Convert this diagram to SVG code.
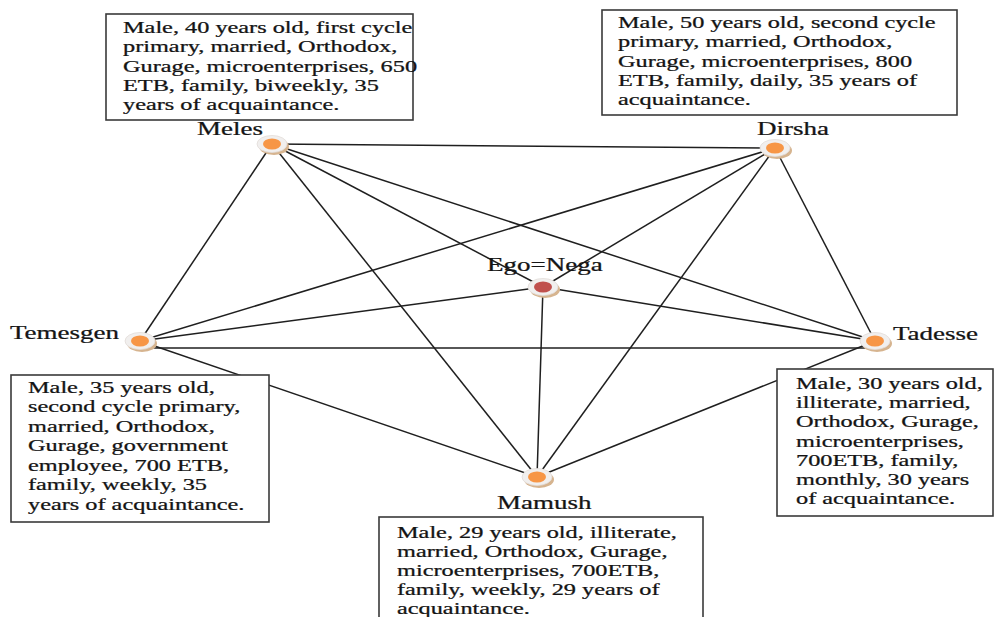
<svg xmlns="http://www.w3.org/2000/svg" width="994" height="617" viewBox="0 0 994 617">
  <defs>
    <style>
      .bg { fill: #ffffff; }
      .edge { stroke: #1f1f1f; stroke-width: 1.5; fill: none; }
      .box { fill: #ffffff; stroke: #3a3a3a; stroke-width: 1.6; }
      .info { font-family: "Liberation Serif", "Times New Roman", serif; font-size: 16.2px; fill: #141414; stroke: #141414; stroke-width: 0.25; }
      .name { font-family: "Liberation Serif", "Times New Roman", serif; font-size: 18px; fill: #141414; stroke: #141414; stroke-width: 0.25; }
      .shadow { fill: #d6b48f; }
      .ring { fill: #f1efee; stroke: #e2dcd8; stroke-width: 0.8; }
      .alter { fill: #f79646; }
      .ego { fill: #c0504d; }
    </style>
    <g id="dot">
      <ellipse class="shadow" cx="2" cy="2.5" rx="15" ry="8.5"/>
      <ellipse class="ring" cx="0" cy="0" rx="15" ry="8.5"/>
    </g>
  </defs>

  <rect class="bg" x="0" y="0" width="994" height="617"/>

  <!-- ties between all six members -->
  <g id="connectors">
    <line class="edge" x1="272" y1="144" x2="775" y2="148"/>
    <line class="edge" x1="272" y1="144" x2="140" y2="341"/>
    <line class="edge" x1="272" y1="144" x2="537" y2="477"/>
    <line class="edge" x1="272" y1="144" x2="543" y2="287"/>
    <line class="edge" x1="272" y1="144" x2="875" y2="341"/>
    <line class="edge" x1="775" y1="148" x2="140" y2="341"/>
    <line class="edge" x1="775" y1="148" x2="543" y2="287"/>
    <line class="edge" x1="775" y1="148" x2="537" y2="477"/>
    <line class="edge" x1="775" y1="148" x2="875" y2="341"/>
    <line class="edge" x1="140" y1="341" x2="543" y2="287"/>
    <line class="edge" x1="150" y1="348" x2="866" y2="348"/>
    <line class="edge" x1="140" y1="341" x2="537" y2="477"/>
    <line class="edge" x1="543" y1="287" x2="875" y2="341"/>
    <line class="edge" x1="543" y1="287" x2="537" y2="477"/>
    <line class="edge" x1="537" y1="477" x2="875" y2="341"/>
  </g>

  <!-- Meles -->
  <g id="meles">
    <rect class="box" x="106" y="14" width="307" height="106"/>
    <g class="info" transform="translate(123,0) scale(1.5,1)">
      <text x="0" y="33">Male, 40 years old, first cycle</text>
      <text x="0" y="52.5">primary, married, Orthodox,</text>
      <text x="0" y="72">Gurage, microenterprises, 650</text>
      <text x="0" y="91">ETB, family, biweekly, 35</text>
      <text x="0" y="110">years of acquaintance.</text>
    </g>
    <text class="name" transform="translate(197,135) scale(1.5,1)">Meles</text>
    <use href="#dot" x="272" y="144"/>
    <ellipse class="alter" cx="272" cy="144" rx="9" ry="5.5"/>
  </g>

  <!-- Dirsha -->
  <g id="dirsha">
    <rect class="box" x="602" y="10" width="355" height="105"/>
    <g class="info" transform="translate(618,0) scale(1.5,1)">
      <text x="0" y="28">Male, 50 years old, second cycle</text>
      <text x="0" y="47.5">primary, married, Orthodox,</text>
      <text x="0" y="67">Gurage, microenterprises, 800</text>
      <text x="0" y="86">ETB, family, daily, 35 years of</text>
      <text x="0" y="105">acquaintance.</text>
    </g>
    <text class="name" transform="translate(757,135) scale(1.5,1)">Dirsha</text>
    <use href="#dot" x="775" y="148"/>
    <ellipse class="alter" cx="775" cy="148" rx="9" ry="5.5"/>
  </g>

  <!-- Ego -->
  <g id="ego-nega">
    <text class="name" transform="translate(487,271) scale(1.5,1)">Ego=Nega</text>
    <use href="#dot" x="543" y="287"/>
    <ellipse class="ego" cx="543" cy="287" rx="9" ry="5.5"/>
  </g>

  <!-- Temesgen -->
  <g id="temesgen">
    <rect class="box" x="11" y="375" width="258" height="147"/>
    <g class="info" transform="translate(28,0) scale(1.5,1)">
      <text x="0" y="393">Male, 35 years old,</text>
      <text x="0" y="412.5">second cycle primary,</text>
      <text x="0" y="432">married, Orthodox,</text>
      <text x="0" y="451.5">Gurage, government</text>
      <text x="0" y="471">employee, 700 ETB,</text>
      <text x="0" y="490.5">family, weekly, 35</text>
      <text x="0" y="510">years of acquaintance.</text>
    </g>
    <text class="name" transform="translate(10,339) scale(1.5,1)">Temesgen</text>
    <use href="#dot" x="140" y="341"/>
    <ellipse class="alter" cx="140" cy="341" rx="9" ry="5.5"/>
  </g>

  <!-- Tadesse -->
  <g id="tadesse">
    <rect class="box" x="777" y="369" width="216" height="147"/>
    <g class="info" transform="translate(796,0) scale(1.5,1)">
      <text x="0" y="389">Male, 30 years old,</text>
      <text x="0" y="408">illiterate, married,</text>
      <text x="0" y="427.5">Orthodox, Gurage,</text>
      <text x="0" y="447">microenterprises,</text>
      <text x="0" y="466">700ETB, family,</text>
      <text x="0" y="485.5">monthly, 30 years</text>
      <text x="0" y="504.5">of acquaintance.</text>
    </g>
    <text class="name" transform="translate(893,340) scale(1.5,1)">Tadesse</text>
    <use href="#dot" x="875" y="341"/>
    <ellipse class="alter" cx="875" cy="341" rx="9" ry="5.5"/>
  </g>

  <!-- Mamush -->
  <g id="mamush">
    <rect class="box" x="379" y="517" width="324" height="110"/>
    <g class="info" transform="translate(397,0) scale(1.5,1)">
      <text x="0" y="538">Male, 29 years old, illiterate,</text>
      <text x="0" y="557">married, Orthodox, Gurage,</text>
      <text x="0" y="576.5">microenterprises, 700ETB,</text>
      <text x="0" y="595.5">family, weekly, 29 years of</text>
      <text x="0" y="614">acquaintance.</text>
    </g>
    <text class="name" transform="translate(497,509) scale(1.5,1)">Mamush</text>
    <use href="#dot" x="537" y="477"/>
    <ellipse class="alter" cx="537" cy="477" rx="9" ry="5.5"/>
  </g>
</svg>
